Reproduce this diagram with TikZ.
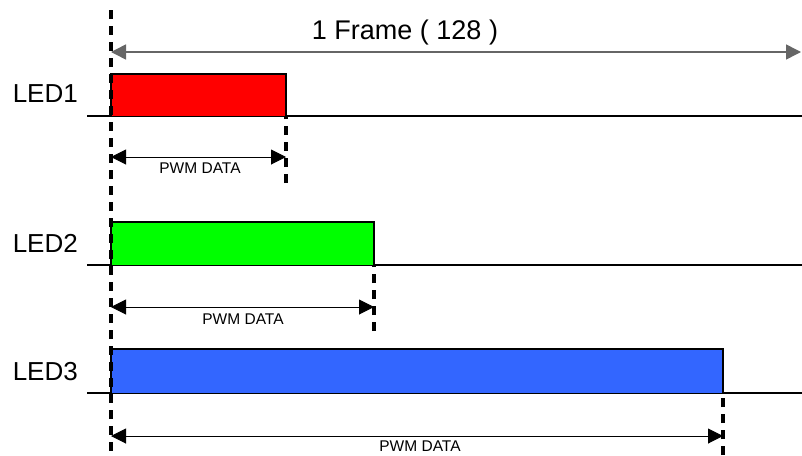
\documentclass[tikz,border=0pt]{standalone}
\usepackage{fontspec}
\setmainfont{Liberation Sans}
\usetikzlibrary{arrows.meta}
\definecolor{ledred}{RGB}{255,0,0}
\definecolor{ledgreen}{RGB}{0,255,0}
\definecolor{ledblue}{RGB}{51,102,255}
\begin{document}
\begin{tikzpicture}[x=1pt,y=-1pt,
  sig/.style={line width=1.8pt},
  pulse/.style={draw=black,line width=1.8pt},
  guide/.style={line width=3.2pt,dash pattern=on 9pt off 7pt},
  dim/.style={line width=1pt,{Triangle[length=15pt,width=15pt]}-{Triangle[length=15pt,width=15pt]}},
  lbl/.style={font=\fontsize{26}{30}\selectfont,inner sep=0pt},
  small/.style={font=\fontsize{15.5}{18}\selectfont,inner sep=0pt}]
\useasboundingbox (0,0) rectangle (802,455);
% coordinates
\coordinate (t0) at (111,10);
\coordinate (b0) at (111,455);
% frame
\coordinate (fl) at (111,52);
\coordinate (fr) at (801,52);
\draw[dim,draw=black!60,line width=1.5pt] (fl) -- (fr);
\node[font=\fontsize{27}{32}\selectfont,inner sep=0pt] (frame) at (405,33) {1 Frame ( 128 )};
% LED1
\draw[sig] (87,116) -- (802,116);
\draw[pulse,fill=ledred] (111,116) -- (111,74) -- (286,74) -- (286,116);
\node[lbl,anchor=east] (led1) at (78,94) {LED1};
\coordinate (e1t) at (286,116);
\coordinate (e1b) at (286,183);
\draw[guide] (e1b) -- (e1t);
\coordinate (a1l) at (111,157);
\coordinate (a1r) at (286,157);
\draw[dim] (a1l) -- (a1r);
\node[small] (p1) at (200,168) {PWM DATA};
% LED2
\draw[sig] (87,265) -- (802,265);
\draw[pulse,fill=ledgreen] (111,265) -- (111,222) -- (374,222) -- (374,265);
\node[lbl,anchor=east] (led2) at (78,243) {LED2};
\coordinate (e2t) at (374,265);
\coordinate (e2b) at (374,331);
\draw[guide] (e2b) -- (e2t);
\coordinate (a2l) at (111,307);
\coordinate (a2r) at (374,307);
\draw[dim] (a2l) -- (a2r);
\node[small] (p2) at (243,319) {PWM DATA};
% LED3
\draw[sig] (87,393) -- (802,393);
\draw[pulse,fill=ledblue] (111,393) -- (111,349) -- (723,349) -- (723,393);
\node[lbl,anchor=east] (led3) at (78,372) {LED3};
\coordinate (e3t) at (723,393);
\coordinate (e3b) at (723,455);
\draw[guide] (e3b) -- (e3t);
\coordinate (a3l) at (111,436);
\coordinate (a3r) at (723,436);
\draw[dim] (a3l) -- (a3r);
\node[small] (p3) at (420,446) {PWM DATA};
% left guide
\draw[guide] (t0) -- (b0);
\end{tikzpicture}
\end{document}
